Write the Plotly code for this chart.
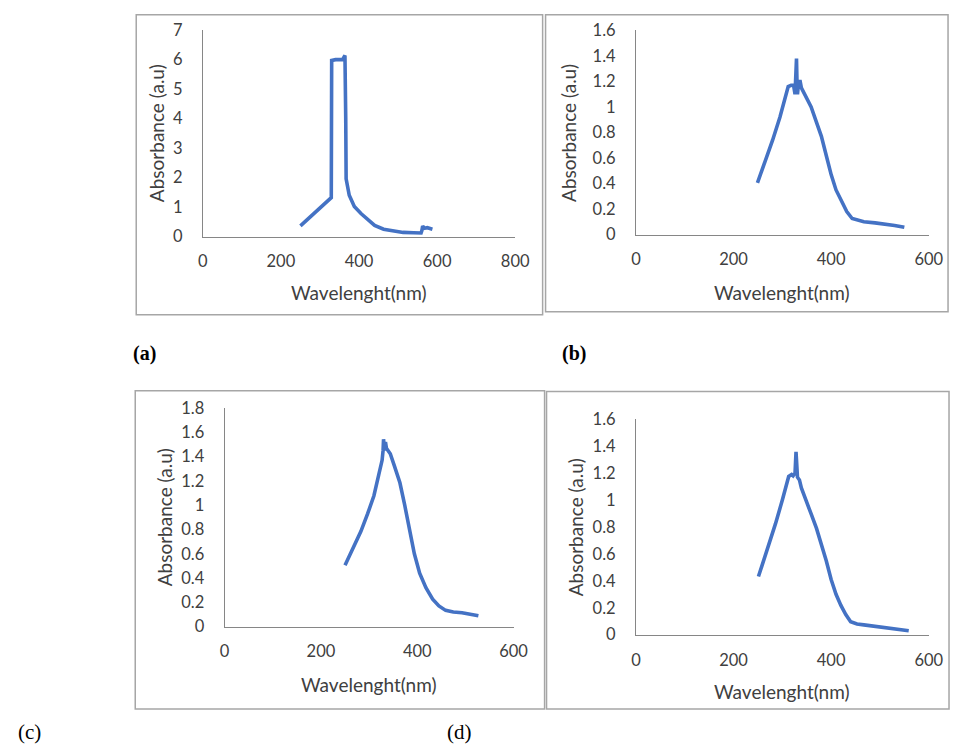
import plotly.graph_objects as go

W, H = 965, 755

# ---- data ----
wl_a = [250, 270, 290, 310, 329, 330, 340, 358, 364, 366, 367, 375, 388, 405, 421, 440, 463, 490, 513, 540, 559, 561, 563, 567, 575, 588]
ab_a = [0.36, 0.6, 0.85, 1.1, 1.32, 5.97, 6.0, 6.0, 6.14, 4.0, 1.96, 1.4, 1.02, 0.78, 0.58, 0.38, 0.25, 0.18, 0.14, 0.13, 0.12, 0.2, 0.36, 0.28, 0.3, 0.25]

wl_b = [249, 265, 280, 295, 312, 318, 323, 326, 328, 329, 330, 331, 333, 336, 339, 345, 359, 370, 380, 390, 400, 410, 420, 432, 443, 455, 467, 490, 513, 530, 550]
ab_b = [0.405, 0.57, 0.74, 0.92, 1.16, 1.17, 1.17, 1.10, 1.25, 1.38, 1.2, 1.10, 1.18, 1.21, 1.15, 1.1, 1.0, 0.88, 0.77, 0.62, 0.47, 0.35, 0.265, 0.18, 0.126, 0.11, 0.10, 0.092, 0.082, 0.072, 0.057]

wl_c = [250, 265, 283, 297, 310, 320, 327, 329, 330, 332, 334, 336, 340, 344, 352, 364, 374, 384, 394, 405, 418, 432, 445, 459, 475, 493, 510, 527]
ab_c = [0.506, 0.64, 0.785, 0.93, 1.078, 1.25, 1.37, 1.45, 1.544, 1.45, 1.52, 1.47, 1.45, 1.424, 1.33, 1.185, 1.0, 0.785, 0.6, 0.44, 0.32, 0.226, 0.17, 0.133, 0.12, 0.114, 0.1, 0.088]

wl_d = [251, 268, 286, 300, 313, 319, 322, 326, 328, 329, 331, 335, 339, 349, 359, 370, 380, 390, 400, 410, 420, 430, 440, 453, 467, 490, 513, 535, 559]
ab_d = [0.432, 0.62, 0.825, 1.0, 1.176, 1.19, 1.18, 1.2, 1.358, 1.3, 1.17, 1.15, 1.09, 1.0, 0.897, 0.79, 0.68, 0.55, 0.41, 0.3, 0.218, 0.15, 0.097, 0.08, 0.073, 0.063, 0.054, 0.042, 0.03]

x_title = "Wavelenght(nm)"
y_title = "Absorbance (a.u)"
panel_labels = ["(a)", "(b)", "(c)", "(d)"]

# ---- layout geometry (pixels) ----
def px_x(p):
    return p / W

def px_y(p):
    return 1 - p / H

panels = [
    dict(x=(202, 521), y=(20.7, 232.7), xr=800, yr=7, dt=1, data=(wl_a, ab_a),
         border=(134, 5, 549, 313), lab=(142, 353), ytoff=47, xtoff=57, bold=True),
    dict(x=(644.3, 943.3), y=(21, 230.7), xr=600, yr=1.6, dt=0.2, data=(wl_b, ab_b),
         border=(552, 5, 963, 310), lab=(581, 353), ytoff=69, xtoff=59, bold=True),
    dict(x=(224.3, 519.3), y=(409, 633.3), xr=600, yr=1.8, dt=0.2, data=(wl_c, ab_c),
         border=(133, 391, 551, 718), lab=(25, 742), ytoff=62, xtoff=60, bold=False),
    dict(x=(644.3, 943.3), y=(420.5, 641.7), xr=600, yr=1.6, dt=0.2, data=(wl_d, ab_d),
         border=(553, 392, 964, 718), lab=(464, 742), ytoff=62, xtoff=58, bold=False),
]

fig = go.Figure()
tick_font = dict(family="Lato, Liberation Sans, sans-serif", size=16.5, color="#404040")
title_font = dict(family="Lato, Liberation Sans, sans-serif", size=19, color="#404040")

shapes = []
annotations = []
for i, p in enumerate(panels):
    n = "" if i == 0 else str(i + 1)
    xa = "x" + n
    ya = "y" + n
    xs, ys = p["data"]
    fig.add_trace(go.Scatter(x=xs, y=ys, mode="lines", xaxis=xa, yaxis=ya,
                             line=dict(color="#4472C4", width=3.6), showlegend=False,
                             hoverinfo="skip"))
    xdom = [px_x(p["x"][0]), px_x(p["x"][1])]
    ydom = [px_y(p["y"][1]), px_y(p["y"][0])]
    xkey = "xaxis" + n
    ykey = "yaxis" + n
    xvals = list(range(0, p["xr"] + 1, 200))
    fig.update_layout(**{
        xkey: dict(domain=xdom, range=[0, p["xr"]], anchor=ya, tickvals=xvals,
                   showgrid=False, zeroline=False, showline=True, linecolor="#868686",
                   linewidth=1, ticks="", tickfont=tick_font, ticklabelstandoff=10),
        ykey: dict(domain=ydom, range=[0, p["yr"]], anchor=xa, dtick=p["dt"], tick0=0,
                   showgrid=False, zeroline=False, showline=True, linecolor="#868686",
                   linewidth=1, ticks="", tickfont=tick_font, ticklabelstandoff=16),
    })
    bx0, by0, bx1, by1 = p["border"]
    shapes.append(dict(type="rect", xref="paper", yref="paper",
                       x0=px_x(bx0), x1=px_x(bx1), y0=px_y(by1), y1=px_y(by0),
                       line=dict(color="#A6A6A6", width=1.5)))
    xc = (p["x"][0] + p["x"][1]) / 2
    annotations.append(dict(text=x_title, xref="paper", yref="paper",
                            x=px_x(xc), y=px_y(p["y"][1] + p["xtoff"]), showarrow=False,
                            font=title_font, xanchor="center", yanchor="middle"))
    yc = (p["y"][0] + p["y"][1]) / 2
    annotations.append(dict(text=y_title, xref="paper", yref="paper",
                            x=px_x(p["x"][0] - p["ytoff"]), y=px_y(yc), showarrow=False,
                            font=title_font, textangle=-90, xanchor="center", yanchor="middle"))
    lbl = "<b>%s</b>" % panel_labels[i] if p["bold"] else panel_labels[i]
    annotations.append(dict(text=lbl, xref="paper", yref="paper",
                            x=px_x(p["lab"][0]), y=px_y(p["lab"][1]), showarrow=False,
                            font=dict(family="Liberation Serif, Times New Roman, serif",
                                      size=20 if p["bold"] else 21, color="#000000"),
                            xanchor="center", yanchor="middle"))

fig.update_layout(width=W, height=H, margin=dict(l=0, r=0, t=0, b=0),
                  paper_bgcolor="white", plot_bgcolor="white",
                  shapes=shapes, annotations=annotations)

fig.write_html("out.html")
